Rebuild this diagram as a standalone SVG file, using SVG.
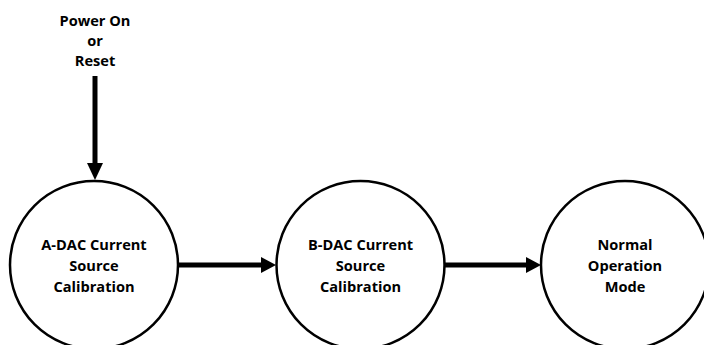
<svg xmlns="http://www.w3.org/2000/svg" width="704" height="345" viewBox="0 0 704 345">
<style>
.node{fill:#fff;stroke:#000;stroke-width:2.5}
.lbl{font-family:"Open Sans","Liberation Sans",sans-serif;font-weight:bold;font-size:14.6px;fill:#000;text-anchor:middle}
.edge{stroke:#000;stroke-width:5;fill:none}
</style>
<rect width="704" height="345" fill="#fff"/>
<g id="edges">
<line class="edge" x1="95" y1="76" x2="95" y2="164"/>
<polygon points="87,163 103,163 95,180"/>
<line class="edge" x1="178" y1="265" x2="262" y2="265"/>
<polygon points="261,257 261,273 276,265"/>
<line class="edge" x1="445" y1="265" x2="527" y2="265"/>
<polygon points="526,257 526,273 541,265"/>
</g>
<g id="start">
<text class="lbl" x="95" y="26">Power On</text>
<text class="lbl" x="95" y="46">or</text>
<text class="lbl" x="95" y="66">Reset</text>
</g>
<g id="adac">
<circle class="node" cx="94" cy="265" r="84"/>
<text class="lbl" x="94" y="250">A-DAC Current</text>
<text class="lbl" x="94" y="271">Source</text>
<text class="lbl" x="94" y="292">Calibration</text>
</g>
<g id="bdac">
<circle class="node" cx="360.5" cy="265" r="84"/>
<text class="lbl" x="360.5" y="250">B-DAC Current</text>
<text class="lbl" x="360.5" y="271">Source</text>
<text class="lbl" x="360.5" y="292">Calibration</text>
</g>
<g id="normal">
<circle class="node" cx="625" cy="265" r="84"/>
<text class="lbl" x="625" y="250">Normal</text>
<text class="lbl" x="625" y="271">Operation</text>
<text class="lbl" x="625" y="292">Mode</text>
</g>
</svg>
